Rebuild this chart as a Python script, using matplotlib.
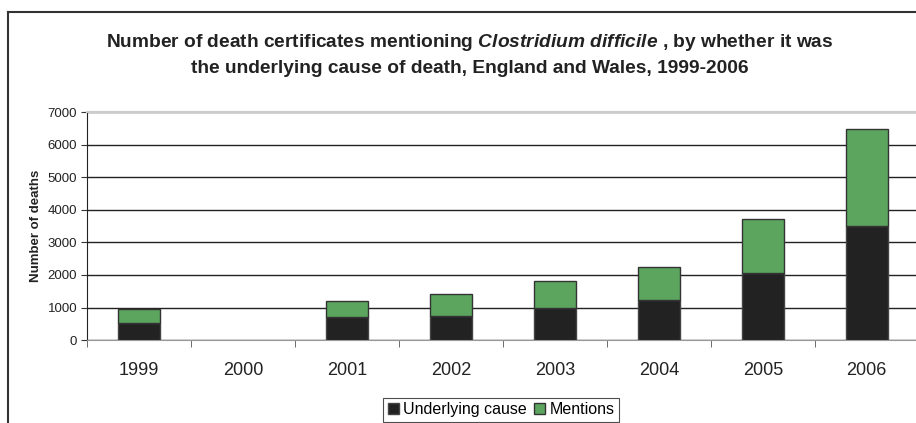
import numpy as np
import matplotlib.pyplot as plt
from matplotlib.lines import Line2D

plt.rcParams['font.family'] = ['Liberation Sans', 'DejaVu Sans']
plt.rcParams['mathtext.fontset'] = 'custom'
plt.rcParams['mathtext.it'] = 'Liberation Sans:italic:bold'
plt.rcParams['mathtext.rm'] = 'Liberation Sans:bold'

years = ['1999', '2000', '2001', '2002', '2003', '2004', '2005', '2006']
# no data for 2000
underlying = np.array([520, np.nan, 714, 752, 974, 1231, 2072, 3490])
mentions = np.array([440, np.nan, 500, 648, 841, 1005, 1651, 2980])

black = '#222222'
green = '#5ba55e'

fig = plt.figure(figsize=(9.16, 4.23), dpi=100)
ax = fig.add_axes([0.095, 0.196, 0.908, 0.539])

x = np.arange(len(years))
ax.bar(x, underlying, width=0.4, color=black, edgecolor='#444444', linewidth=1,
       label='Underlying cause', zorder=3)
ax.bar(x, mentions, width=0.4, bottom=underlying, color=green, edgecolor='#333333',
       linewidth=1, label='Mentions', zorder=3)

ax.set_xlim(-0.5, len(years) - 0.5)
ax.set_ylim(0, 7000)
ax.set_yticks(np.arange(0, 7001, 1000))
ax.tick_params(axis='y', labelsize=9.5, length=4, color='#333333', pad=3,
               labelcolor='#222222')
ax.set_xticks(x)
ax.set_xticklabels(years, fontsize=13, color='#222222')
ax.set_xticks(np.arange(-0.5, len(years), 1), minor=True)
ax.tick_params(axis='x', which='major', length=0, pad=16)
ax.tick_params(axis='x', which='minor', length=5, color='#555555')
ax.yaxis.grid(True, color='#222222', linewidth=1, zorder=0)
ax.set_axisbelow(True)

ax.spines['left'].set_color('#222222')
ax.spines['bottom'].set_color('#999999')
ax.spines['top'].set_color('#cccccc')
ax.spines['top'].set_linewidth(1.5)
ax.spines['right'].set_visible(False)

ax.set_ylabel('Number of deaths', fontsize=9.5, fontweight='bold', labelpad=4,
              color='#222222')

fig.text(0.513, 0.9,
         r'Number of death certificates mentioning $\mathit{Clostridium\ difficile}$ , by whether it was',
         ha='center', va='center', fontsize=13.8, fontweight='bold', color='#222222')
fig.text(0.513, 0.838,
         'the underlying cause of death, England and Wales, 1999-2006',
         ha='center', va='center', fontsize=13.8, fontweight='bold', color='#222222')

# outer chart border (cropped at right and bottom)
fig.add_artist(Line2D([8 / 916, 8 / 916], [0, 1 - 12 / 423], color='#333333', lw=1.5))
fig.add_artist(Line2D([8 / 916, 1], [1 - 12 / 423, 1 - 12 / 423], color='#333333', lw=1.5))

leg = fig.legend(loc='upper center', bbox_to_anchor=(0.547, 0.06), ncol=2,
                 fontsize=11.5, frameon=True, fancybox=False, handlelength=0.7,
                 handleheight=0.7, handletextpad=0.3, columnspacing=0.4,
                 borderpad=0.3, borderaxespad=0)
leg.get_frame().set_edgecolor('#222222')
leg.get_frame().set_linewidth(0.8)

plt.savefig('out.png', dpi=100)
